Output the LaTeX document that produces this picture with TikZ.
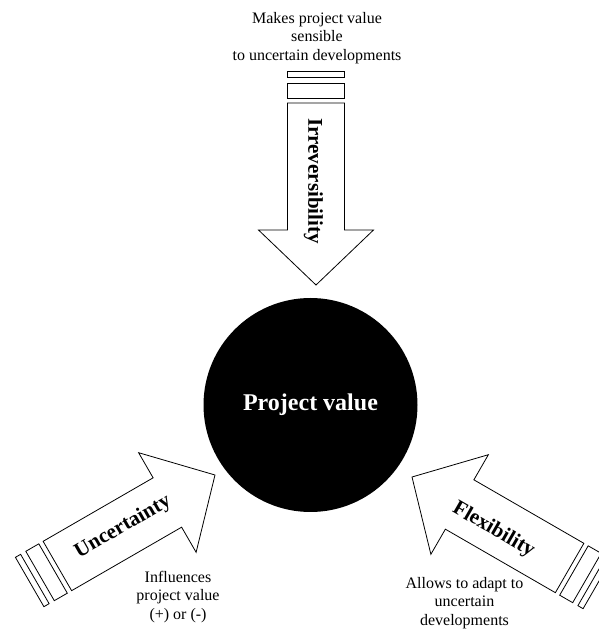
\documentclass[tikz,border=0pt]{standalone}
\usepackage{fontspec}
\setmainfont{Liberation Serif}
\begin{document}
\begin{tikzpicture}[x=1pt,y=1pt,
  arrowline/.style={draw=black,fill=white,line width=0.8pt,line join=miter},
  blockarrow/.pic={
    % arrow body with its tip at the origin, pointing along +x
    \path[arrowline] (0,0) -- (-55,57.5) -- (-55,28.5) -- (-182,28.5)
      -- (-182,-28.5) -- (-55,-28.5) -- (-55,-57.5) -- cycle;
    % the two bands behind the tail
    \path[arrowline] (-187,-28.5) rectangle (-202,28.5);
    \path[arrowline] (-208,-28.5) rectangle (-214,28.5);
  },
  arrowlabel/.style={font=\fontsize{21}{24}\selectfont\bfseries,inner sep=0pt},
  note/.style={font=\fontsize{16}{18.5}\selectfont,align=center,inner sep=0pt}
]
\useasboundingbox (0,0) rectangle (599,633);

% central value
\node[circle,fill=black,minimum size=214pt,inner sep=0pt,
      text=white,font=\fontsize{24}{28}\selectfont\bfseries] (pv) at (310.5,228) {Project value};

% three block arrows
\pic[rotate=-90] at (316,348) {blockarrow};
\pic[rotate=30]  at (215,158) {blockarrow};
\pic[rotate=150] at (412,156) {blockarrow};

% arrow labels
\node[arrowlabel,rotate=-90] (irr) at (313.5,452) {Irreversibility};
\node[arrowlabel,rotate=30]  (unc) at (123,106) {Uncertainty};
\node[arrowlabel,rotate=-30] (flx) at (493.5,103) {Flexibility};

% explanatory notes
\node[note] (irrnote) at (317,595) {Makes project value\\sensible\\to uncertain developments};
\node[note] (uncnote) at (178,36) {Influences\\project value\\(+) or (-)};
\node[note] (flxnote) at (464.5,30) {Allows to adapt to\\uncertain\\developments};
\end{tikzpicture}
\end{document}
